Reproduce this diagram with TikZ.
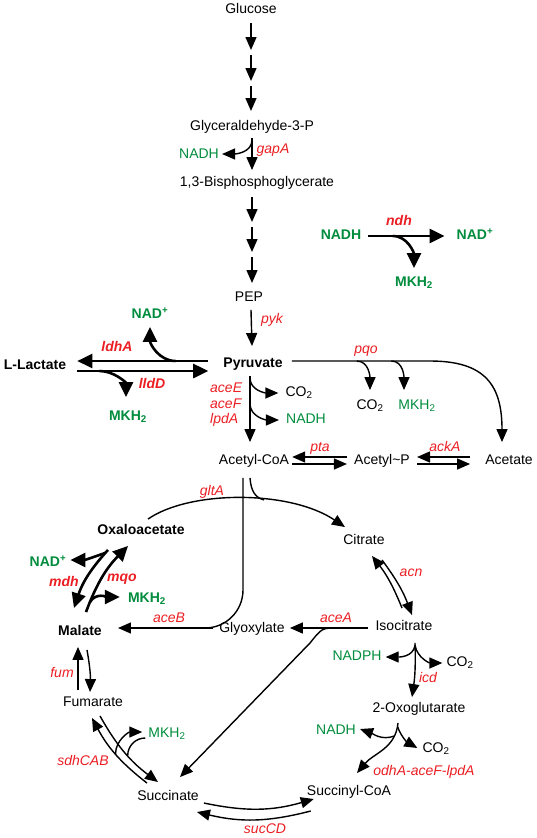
\documentclass[tikz,border=0pt]{standalone}
\usepackage{fontspec}
\setmainfont{Liberation Sans}
\usepackage{tikz}
\usetikzlibrary{arrows.meta}
\definecolor{enzred}{RGB}{235,30,35}
\definecolor{cofgreen}{RGB}{0,140,60}
\newcommand{\dgfont}{\fontsize{14}{15.5}\selectfont}
\tikzset{
  lab/.style={inner sep=1pt, text height=10.5pt, text depth=3pt},
  met/.style={lab, font=\dgfont},
  metb/.style={lab, font=\dgfont\bfseries},
  cof/.style={lab, font=\dgfont, text=cofgreen},
  cofb/.style={lab, font=\dgfont\bfseries, text=cofgreen},
  enz/.style={lab, font=\dgfont\itshape, text=enzred},
  enzb/.style={lab, font=\dgfont\bfseries\itshape, text=enzred},
  arr/.style={line width=1.4pt, -{Triangle[length=13pt,width=11pt]}},
  thk/.style={line width=2.6pt, -{Triangle[length=15pt,width=14pt]}},
  ln/.style={line width=1.4pt}
}

\begin{document}
\begin{tikzpicture}[x=1pt,y=-1pt]
    \useasboundingbox (0,0) rectangle (536,838);

    \node[met] (glc) at (251,10) {Glucose};
    \node[met] (gap) at (252,127) {Glyceraldehyde-3-P};
    \node[met] (bpg) at (257,183) {1,3-Bisphosphoglycerate};
    \node[met] (pep) at (249,298) {PEP};
    \node[metb] (pyr) at (253,364) {Pyruvate};
    \node[metb] (lac) at (35,366) {L-Lactate};
    \node[met] (accoa) at (254,461) {Acetyl-CoA};
    \node[met] (acp) at (382,461) {Acetyl\textasciitilde P};
    \node[met] (acet) at (509,461) {Acetate};
    \node[metb] (oaa) at (141,531) {Oxaloacetate};
    \node[met] (cit) at (364,541) {Citrate};
    \node[met] (glyox) at (252,629) {Glyoxylate};
    \node[metb] (mal) at (80,632) {Malate};
    \node[met] (isocit) at (404,627) {Isocitrate};
    \node[met] (fum) at (93,703) {Fumarate};
    \node[met] (oxo) at (419,709) {2-Oxoglutarate};
    \node[met] (succ) at (168,797) {Succinate};
    \node[met] (succoa) at (349,792) {Succinyl-CoA};

    \node[cof] (nadh1) at (199,155) {NADH};
    \node[cofb] (nadh2) at (341,236) {NADH};
    \node[cofb] (nad2) at (475,236) {NAD\textsuperscript{+}};
    \node[cofb] (mkh2a) at (414,283) {MKH\textsubscript{2}};
    \node[cofb] (nad1) at (150,315) {NAD\textsuperscript{+}};
    \node[cofb] (mkh2b) at (128,417) {MKH\textsubscript{2}};
    \node[met] (co2a) at (299,393) {CO\textsubscript{2}};
    \node[cof] (nadh3) at (306,420) {NADH};
    \node[met] (co2b) at (370,406) {CO\textsubscript{2}};
    \node[cof] (mkh2c) at (417,406) {MKH\textsubscript{2}};
    \node[cofb] (nad3) at (48,563) {NAD\textsuperscript{+}};
    \node[cofb] (mkh2d) at (147,599) {MKH\textsubscript{2}};
    \node[cof] (nadph) at (357,657) {NADPH};
    \node[met] (co2c) at (460,663) {CO\textsubscript{2}};
    \node[cof] (nadh4) at (336,731) {NADH};
    \node[met] (co2d) at (436,749) {CO\textsubscript{2}};
    \node[cof] (mkh2e) at (167,734) {MKH\textsubscript{2}};

    \node[enz] (gapA) at (273,150) {gapA};
    \node[enzb] (ndh) at (399,222) {ndh};
    \node[enz] (pyk) at (272,320) {pyk};
    \node[enzb] (ldhA) at (117,348) {ldhA};
    \node[enzb] (lldD) at (152,385) {lldD};
    \node[enz, anchor=west] (aceE) at (209,389) {aceE};
    \node[enz, anchor=west] (aceF) at (209,405) {aceF};
    \node[enz, anchor=west] (lpdA) at (209,420) {lpdA};
    \node[enz] (pqo) at (366,350) {pqo};
    \node[enz] (pta) at (320,448) {pta};
    \node[enz] (ackA) at (445,448) {ackA};
    \node[enz] (gltA) at (212,492) {gltA};
    \node[enzb] (mdh) at (64,583) {mdh};
    \node[enzb] (mqo) at (122,578) {mqo};
    \node[enz] (aceB) at (169,619) {aceB};
    \node[enz] (acn) at (411,573) {acn};
    \node[enz] (aceA) at (336,619) {aceA};
    \node[enz] (fumE) at (62,674) {fum};
    \node[enz] (icd) at (428,679) {icd};
    \node[enz] (sdh) at (83,762) {sdhCAB};
    \node[enz] (odh) at (424,772) {odhA-aceF-lpdA};
    \node[enz] (sucCD) at (265,830) {sucCD};

    \foreach \n/\ya/\yb in {1/23/50,2/55/81,3/86/111} {
      \coordinate (gtop\n) at (251,\ya);
      \coordinate (gbot\n) at (251,\yb);
      \draw[arr] (gtop\n) -- (gbot\n);
    }
    \foreach \n/\ya/\yb in {1/197/222,2/227/252,3/257/283} {
      \coordinate (ptop\n) at (252,\ya);
      \coordinate (pbot\n) at (252,\yb);
      \draw[arr] (ptop\n) -- (pbot\n);
    }

    \draw[arr] ([yshift=-3pt]gap.south) -- ([xshift=-5pt,yshift=5pt]bpg.north) coordinate[pos=0.06] (gapbr);
    \draw[arr] (gapbr) to[out=-90,in=0] ([xshift=2pt,yshift=1pt]nadh1.east);
    \draw[arr] ([xshift=2pt,yshift=-4pt]pep.south) -- ([xshift=-1pt,yshift=10pt]pyr.north);

    \draw[thk] ([xshift=-14pt,yshift=3pt]pyr.west) -- ([xshift=10pt,yshift=5pt]lac.east) coordinate[pos=0.25] (ldhbr);
    \draw[thk] (ldhbr) to[out=180,in=-90] ([yshift=-4pt]nad1.south);
    \draw[thk] ([xshift=10pt,yshift=-5pt]lac.east) -- ([xshift=-14pt,yshift=-7pt]pyr.west) coordinate[pos=0.17] (lldbr);
    \draw[thk] (lldbr) to[out=0,in=90] ([xshift=-2pt,yshift=12pt]mkh2b.north);

    \draw[thk] ([xshift=6pt]nadh2.east) -- ([xshift=-11pt]nad2.west) coordinate[pos=0.32] (ndhbr);
    \draw[thk] (ndhbr) to[out=0,in=90] ([yshift=7pt]mkh2a.north);

    \draw[arr] ([xshift=-3pt,yshift=-4pt]pyr.south) -- ([xshift=-4pt,yshift=11pt]accoa.north) coordinate[pos=0.03] (pdh1) coordinate[pos=0.42] (pdh2);
    \draw[arr] (pdh1) to[out=-90,in=180] ([xshift=-6pt]co2a.west);
    \draw[arr] (pdh2) to[out=-90,in=180] ([xshift=-6pt]nadh3.west);

    \draw[arr] ([xshift=8pt,yshift=3pt]pyr.east) -- (430,361) coordinate[pos=0.47] (pqo1) coordinate[pos=0.72] (pqo2) .. controls (485,361) and (502,385) .. ([xshift=-7pt,yshift=11pt]acet.north);
    \draw[arr] (pqo1) to[out=0,in=90] ([yshift=8pt]co2b.north);
    \draw[arr] (pqo2) to[out=0,in=90] ([xshift=-13pt,yshift=8pt]mkh2c.north);

    \draw[arr] ([xshift=-6pt,yshift=4pt]acp.west) -- ([xshift=2pt,yshift=4pt]accoa.east);
    \draw[arr] ([xshift=2pt,yshift=-3pt]accoa.east) -- ([xshift=-6pt,yshift=-3pt]acp.west);
    \draw[arr] ([xshift=-14pt,yshift=4pt]acet.west) -- ([xshift=6pt,yshift=4pt]acp.east);
    \draw[arr] ([xshift=6pt,yshift=-3pt]acp.east) -- ([xshift=-14pt,yshift=-3pt]acet.west);

    \draw[arr] ([xshift=-5pt,yshift=1pt]glyox.west) -- ([xshift=15pt,yshift=4pt]mal.east) coordinate[pos=0.16] (aceBm);
    \draw[ln, rounded corners=38pt] ([xshift=-11pt,yshift=-9pt]accoa.south) |- (aceBm);

    \draw[arr] ([xshift=7pt,yshift=4pt]oaa.north) .. controls (190,490) and (290,490) .. ([xshift=-19pt,yshift=6pt]cit.north) coordinate[pos=0.6] (gltm);
    \draw[ln] ([xshift=-4pt,yshift=-9pt]accoa.south) .. controls (251,492) and (256,498) .. (gltm);

    \draw[thk] ([xshift=-33pt,yshift=-11pt]oaa.south) to[bend right=12] coordinate[pos=0.05] (mdhbr) ([xshift=-6pt,yshift=16pt]mal.north);
    \draw[thk] (mdhbr) to[out=200,in=0] ([xshift=3pt,yshift=3pt]nad3.east);
    \draw[thk] ([xshift=6pt,yshift=12pt]mal.north) to[bend left=12] coordinate[pos=0.12] (mqobr) ([xshift=-13pt,yshift=-7pt]oaa.south);
    \draw[thk] (mqobr) to[out=60,in=180] ([xshift=-7pt,yshift=2pt]mkh2d.west);

    \draw[arr] ([xshift=-15pt,yshift=5pt]fum.north) -- ([xshift=-2pt,yshift=-7pt]mal.south);
    \draw[arr] ([xshift=7pt,yshift=-10pt]mal.south) to[bend left=6] ([xshift=-3pt,yshift=3pt]fum.north);

    \draw[arr] ([xshift=-21pt,yshift=6pt]succ.north) to[bend left=12] coordinate[pos=0.5] (sdhL) ([xshift=-1pt,yshift=-7pt]fum.south);
    \draw[arr] ([xshift=7pt,yshift=-5pt]fum.south) to[bend right=12] coordinate[pos=0.55] (sdhR) ([xshift=-10pt,yshift=7pt]succ.north);
    \draw[arr] (sdhL) to[out=90,in=180] ([xshift=-5pt,yshift=2pt]mkh2e.west);
    \draw[ln] ([xshift=-2pt,yshift=-4pt]mkh2e.west) to[out=180,in=90] (sdhR);

    \draw[arr] ([xshift=-6pt,yshift=-1pt]isocit.west) -- ([xshift=4pt,yshift=1pt]glyox.east) coordinate[pos=0.4] (aceAbr);
    \draw[arr] (aceAbr) .. controls (322,628) .. (310,643) -- ([xshift=12pt,yshift=12pt]succ.north);

    \draw[arr] ([xshift=-2pt,yshift=11pt]isocit.north) to[bend right=8] ([xshift=8pt,yshift=-7pt]cit.south);
    \draw[arr] ([xshift=18pt,yshift=-11pt]cit.south) to[bend left=8] ([xshift=8pt,yshift=4pt]isocit.north);

    \draw[arr] ([xshift=11pt,yshift=-8pt]isocit.south) to[bend left=5] coordinate[pos=0.04] (icdbr) ([xshift=-7pt,yshift=4pt]oxo.north);
    \draw[arr] (icdbr) to[out=-100,in=0] ([xshift=3pt]nadph.east);
    \draw[arr] (icdbr) to[out=-80,in=180] ([xshift=-3pt]co2c.west);

    \draw[arr] ([xshift=-21pt,yshift=-6pt]oxo.south) to[out=-95,in=50] coordinate[pos=0.05] (odhbr1) coordinate[pos=0.2] (odhbr2) ([xshift=8pt,yshift=11pt]succoa.north);
    \draw[arr] (odhbr2) to[out=200,in=-20] ([xshift=3pt,yshift=2pt]nadh4.east);
    \draw[arr] (odhbr1) to[out=-70,in=150] ([xshift=-4pt,yshift=1pt]co2d.west);

    \draw[arr] ([xshift=4pt,yshift=-6pt]succ.east) to[bend right=14] ([xshift=8pt,yshift=-7pt]succoa.west);
    \draw[arr] ([xshift=5pt,yshift=-19pt]succoa.west) to[bend left=14] ([xshift=-3pt,yshift=-15pt]succ.east);
\end{tikzpicture}
\end{document}
